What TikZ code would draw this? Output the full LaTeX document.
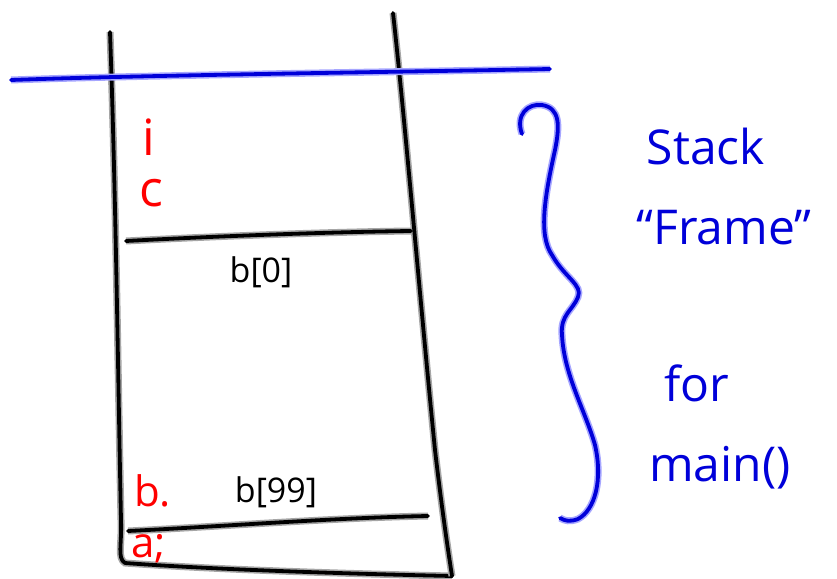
\documentclass[tikz,border=0pt]{standalone}
\usepackage{fontspec}
\setmainfont{Open Sans}
\begin{document}
\begin{tikzpicture}[x=1pt,y=-1pt,
  ink/.style={line width=3.8pt, line cap=round, line join=round,
    preaction={draw=#1!35, line width=7pt}},
  ink/.default=black,
  blackink/.style={ink=black, draw=black},
  blueink/.style={ink=blue, draw=blue!85!black},
  redlabel/.style={text=red, font=\fontsize{50}{56}\selectfont, inner sep=0pt},
  smallred/.style={redlabel, font=\fontsize{42}{48}\selectfont},
  cell/.style={text=black, font=\fontsize{34}{40}\selectfont, inner sep=0pt},
  note/.style={text=blue!85!black, font=\fontsize{48}{54}\selectfont, inner sep=0pt}]
\useasboundingbox (0,0) rectangle (837,578);

% walls of the stack
\draw[blackink] (110,32) .. controls (116,200) and (118,380) .. (121,520)
  .. controls (122,545) and (117,558) .. (125,563)
  .. controls (220,570) and (360,574) .. (452,576);
\draw[blackink] (393,13) .. controls (405,120) and (420,300) .. (435,450)
  .. controls (442,510) and (448,550) .. (452,576);

% top of the frame
\draw[blueink] (11,80) .. controls (150,75) and (400,72) .. (550,69);

% dividing lines
\draw[blackink] (126,241) .. controls (220,236) and (330,232) .. (411,231);
\draw[blackink] (128,531) .. controls (230,526) and (330,518) .. (428,516);

% brace
\draw[blueink] (522,134) .. controls (515,115) and (528,103) .. (542,105)
  .. controls (560,108) and (560,125) .. (555,150)
  .. controls (545,195) and (538,235) .. (552,255)
  .. controls (565,278) and (583,285) .. (578,297)
  .. controls (573,310) and (560,315) .. (562,335)
  .. controls (564,375) and (585,410) .. (595,445)
  .. controls (603,480) and (595,510) .. (578,519)
  .. controls (570,522) and (565,521) .. (560,518);

% slot labels
\node[redlabel] (vi) at (149,137) {i};
\node[redlabel] (vc) at (151,193) {c};
\node[smallred, anchor=west] (vb) at (134,491) {b.};
\node[smallred, anchor=west] (va) at (131,549) {a;};
\node[cell] (b0) at (261,272) {b[0]};
\node[cell] (b99) at (276,492) {b[99]};

% caption
\node[note] (stack) at (706,146) {Stack};
\node[note] (frame) at (724,228) {“Frame”};
\node[note] (for) at (697,383) {for};
\node[note] (main) at (720,468) {main()};
\end{tikzpicture}
\end{document}
